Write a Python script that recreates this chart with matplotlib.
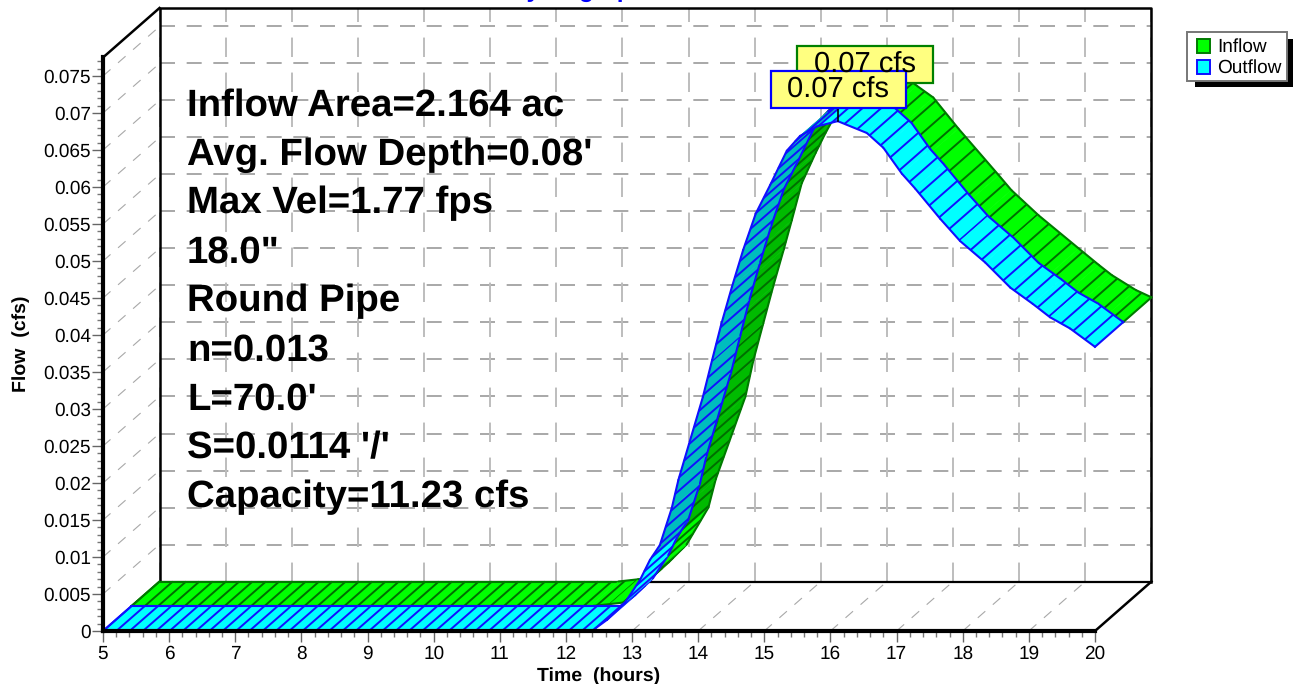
import numpy as np
import matplotlib
matplotlib.use('Agg')
import matplotlib.pyplot as plt
from matplotlib.collections import LineCollection
from matplotlib.patches import Polygon, Rectangle

plt.rcParams['font.family'] = ['Liberation Sans', 'DejaVu Sans']
plt.rcParams['text.hinting'] = 'no_hinting'

# values
outflow_hours = [5.0, 12.39, 12.62, 12.89, 13.12, 13.27, 13.42, 13.60, 13.70, 14.07, 14.21, 14.35, 14.51, 14.68,
                 14.87, 15.09, 15.34, 15.54, 15.80, 16.11, 16.55, 16.80, 17.08, 17.28, 17.66, 17.96, 18.34, 18.72,
                 19.06, 19.32, 19.62, 20.0]
outflow_cfs = [0.0, 0.0, 0.0015, 0.0038, 0.0069, 0.0096, 0.0116, 0.0166, 0.0204, 0.0316, 0.0366, 0.0415, 0.0465, 0.0515,
               0.0564, 0.0603, 0.0649, 0.0669, 0.0682, 0.0689, 0.0673, 0.0653, 0.0618, 0.0598, 0.0557, 0.0527, 0.0498, 0.0464,
               0.0442, 0.0424, 0.0409, 0.0384]
inflow_hours = [5.0, 11.94, 12.24, 12.44, 12.70, 12.97, 13.30, 13.41, 13.86, 13.98, 14.13, 14.28, 14.44, 14.56,
                14.71, 14.92, 15.07, 15.34, 15.60, 15.85, 16.15, 16.45, 16.70, 17.08, 17.69, 17.88, 18.29, 18.90,
                19.20, 19.40, 19.76, 20.0]
inflow_cfs = [0.0, 0.0, 0.0003, 0.0005, 0.0026, 0.0050, 0.0100, 0.0138, 0.0250, 0.0299, 0.0349, 0.0399, 0.0449, 0.0488,
              0.0538, 0.0579, 0.0606, 0.0650, 0.0675, 0.0686, 0.0690, 0.0670, 0.0654, 0.0612, 0.0549, 0.0529, 0.0495, 0.0450,
              0.0428, 0.0414, 0.0394, 0.0384]
x_ticks = list(range(5, 21))
y_ticks = [i * 0.005 for i in range(16)]
y_labels = ['0', '0.005', '0.01', '0.015', '0.02', '0.025', '0.03', '0.035', '0.04', '0.045', '0.05', '0.055',
            '0.06', '0.065', '0.07', '0.075']
info_lines = ['Inflow Area=2.164 ac', "Avg. Flow Depth=0.08'", 'Max Vel=1.77 fps', '18.0"', 'Round Pipe',
              'n=0.013', "L=70.0'", "S=0.0114 '/'", 'Capacity=11.23 cfs']

W, H = 1294, 684
LEFT, RIGHT, BOTTOM, TOP = 103, 1095, 631, 57.5
PX_HOUR = (RIGHT - LEFT) / 15
PX_CFS = 7400
Y_MAX = (BOTTOM - TOP) / PX_CFS
DEPTH_X = 56.5 / PX_HOUR
DEPTH_Y = 49.5 / PX_CFS
RIB_STEP = 13.3


def depth(x, y, z):
    return np.asarray(x) + z * DEPTH_X, np.asarray(y) + z * DEPTH_Y


def fx(px):
    return px / W


def fy(py):
    return 1 - py / H


fig = plt.figure(figsize=(W / 100, H / 100), dpi=100)
ax = fig.add_axes([fx(LEFT), fy(BOTTOM), (RIGHT - LEFT) / W, (BOTTOM - TOP) / H])
ax.set_xlim(5, 20)
ax.set_ylim(0, Y_MAX)
ax.patch.set_visible(False)
for s in ['top', 'right']:
    ax.spines[s].set_visible(False)
for s in ['left', 'bottom']:
    ax.spines[s].set_linewidth(3)
    ax.spines[s].set_color('black')
    ax.spines[s].set_zorder(8)

ax.set_xticks(x_ticks)
ax.set_yticks(y_ticks)
ax.set_yticklabels(y_labels)
ax.set_xticks(np.arange(5, 20.01, 0.2), minor=True)
ax.set_yticks(np.arange(0, Y_MAX, 0.001), minor=True)
ax.tick_params(which='major', length=8, width=1, color='#666666', labelsize=13.7)
ax.tick_params(axis='y', which='major', pad=0.5)
ax.tick_params(axis='x', which='major', pad=2)
ax.tick_params(which='minor', length=4.5, width=1, color='#777777')

# grid on the walls and floor
h_dash = (0, (9, 7))
for t in y_ticks:
    bx, by = depth([5, 20], [t, t], 1)
    ax.plot(bx, by, color='#999999', lw=1.2, ls=h_dash, clip_on=False, zorder=1)
    lx, ly = depth(5, t, 0), depth(5, t, 1)
    ax.plot([lx[0], ly[0]], [lx[1], ly[1]], color='#a8a8a8', lw=0.8, ls=(0, (9, 9)), clip_on=False, zorder=1)
for t in x_ticks:
    bx, by = depth([t, t], [0, Y_MAX], 1)
    ax.plot(bx, by, color='#bdbdbd', lw=1.4, ls=(0, (10, 8)), clip_on=False, zorder=1)
    near, far = depth(t, 0, 0), depth(t, 0, 1)
    ax.plot([near[0], far[0]], [near[1], far[1]], color='#a8a8a8', lw=0.8, ls=(0, (9, 9)), clip_on=False, zorder=1)

# outer frame
frame_x, frame_y = depth([5, 5, 20, 20], [0, Y_MAX, Y_MAX, 0], 1)
ax.plot(frame_x, frame_y, color='black', lw=1.8, clip_on=False, zorder=2)
fx0, fy0 = depth([5, 20], [0, 0], 1)
ax.plot(fx0, fy0, color='black', lw=1.6, clip_on=False, zorder=2)
ax.plot([5, frame_x[1]], [Y_MAX, frame_y[1]], color='black', lw=1.8, clip_on=False, zorder=2)
ax.plot([20, fx0[1]], [0, fy0[1]], color='black', lw=1.8, clip_on=False, zorder=2)


def ribbon(hours, cfs, z0, z1, bright, dark, edge, rib, base_z):
    x0, y0 = depth(hours, cfs, z0)
    x1, y1 = depth(hours, cfs, z1)
    # ribs run front to back, spaced along the curve
    seg_len = np.hypot(np.diff(hours) * PX_HOUR, 0.75 * np.diff(cfs) * PX_CFS)
    run = np.concatenate([[0], np.cumsum(seg_len)])
    for i in range(len(hours) - 1):
        rising = cfs[i + 1] > cfs[i] + 0.0012 and hours[i] > 13.2
        color = dark if rising else bright
        ax.add_patch(Polygon([(x0[i], y0[i]), (x0[i + 1], y0[i + 1]), (x1[i + 1], y1[i + 1]), (x1[i], y1[i])],
                             closed=True, facecolor=color, edgecolor=color, lw=0.4, clip_on=False, zorder=base_z))
        first = np.ceil(run[i] / RIB_STEP) * RIB_STEP
        stops = (np.arange(first, run[i + 1], RIB_STEP) - run[i]) / seg_len[i]
        ribs = [[(x0[i] + f * (x0[i + 1] - x0[i]), y0[i] + f * (y0[i + 1] - y0[i])),
                 (x1[i] + f * (x1[i + 1] - x1[i]), y1[i] + f * (y1[i + 1] - y1[i]))] for f in stops]
        ax.add_collection(LineCollection(ribs, colors=rib, linewidths=1.4, zorder=base_z, clip_on=False), autolim=False)
        ax.plot(x0[i:i + 2], y0[i:i + 2], color=edge, lw=1.5, clip_on=False, zorder=base_z, solid_capstyle='round')
        ax.plot(x1[i:i + 2], y1[i:i + 2], color=edge, lw=1.5, clip_on=False, zorder=base_z, solid_capstyle='round')
    ax.plot([x0[-1], x1[-1]], [y0[-1], y1[-1]], color=edge, lw=1.5, clip_on=False, zorder=base_z)
    ax.plot([x0[0], x1[0]], [y0[0], y1[0]], color=edge, lw=1.5, clip_on=False, zorder=base_z)


ribbon(np.array(inflow_hours), np.array(inflow_cfs), 0.5, 1, '#00ff00', '#00bb00', '#007a00', '#006e00', 3)
ribbon(np.array(outflow_hours), np.array(outflow_cfs), 0, 0.5, '#00ffff', '#00bdbd', '#1010ff', '#1010ff', 4)

ax.set_xlabel('Time  (hours)', fontweight='bold', fontsize=14)
ax.xaxis.set_label_coords(0.4995, -0.0625)
ax.set_ylabel('Flow  (cfs)', fontweight='bold', fontsize=14)
ax.yaxis.set_label_coords((30 - LEFT) / (RIGHT - LEFT), (BOTTOM - 344) / (BOTTOM - TOP))

# info block
for i, line in enumerate(info_lines):
    fig.text(fx(187), fy(115.5 + i * 49), line, fontsize=27.6, fontweight='bold', color='black', ha='left', va='baseline',
             zorder=9)

# peak labels
ax.plot([16.11, 16.11], [outflow_cfs[19], (BOTTOM - 108) / PX_CFS], color='black', lw=1.2, clip_on=False, zorder=5)
for (x0, y0, x1, y1, ec) in [(797, 46, 933, 83, '#008000'), (771, 71, 906, 108, '#0000ff')]:
    fig.add_artist(Rectangle((fx(x0), fy(y1)), (x1 - x0) / W, (y1 - y0) / H, facecolor='#ffff80', edgecolor=ec, lw=1.6,
                             transform=fig.transFigure, zorder=10))
    fig.text(fx((x0 + x1) / 2), fy((y0 + y1) / 2 + 1), '0.07 cfs', fontsize=21, ha='center', va='center', color='black',
             zorder=10)

# legend
fig.add_artist(Rectangle((fx(1195), fy(87)), 98 / W, 48 / H, facecolor='black', edgecolor='black', lw=0,
                         transform=fig.transFigure, zorder=10))
fig.add_artist(Rectangle((fx(1187), fy(81)), 100 / W, 49 / H, facecolor='white', edgecolor='#777777', lw=1.4,
                         transform=fig.transFigure, zorder=10))
for name, top, face, ec in [('Inflow', 39, '#00ff00', '#007a00'), ('Outflow', 60, '#00ffff', '#1010ff')]:
    fig.add_artist(Rectangle((fx(1197), fy(top + 14)), 13 / W, 14 / H, facecolor=face, edgecolor=ec, lw=1.4,
                             transform=fig.transFigure, zorder=10))
    fig.text(fx(1217), fy(top + 7.5), name, fontsize=13.7, ha='left', va='center', color='black', zorder=11)

# title sits mostly above the top edge, only descenders show
fig.text(fx(509), fy(-3.5), 'Hydrograph', fontsize=17.5, fontweight='bold', color='#0000ff', ha='left', va='baseline')

fig.savefig('out.png', dpi=100)
